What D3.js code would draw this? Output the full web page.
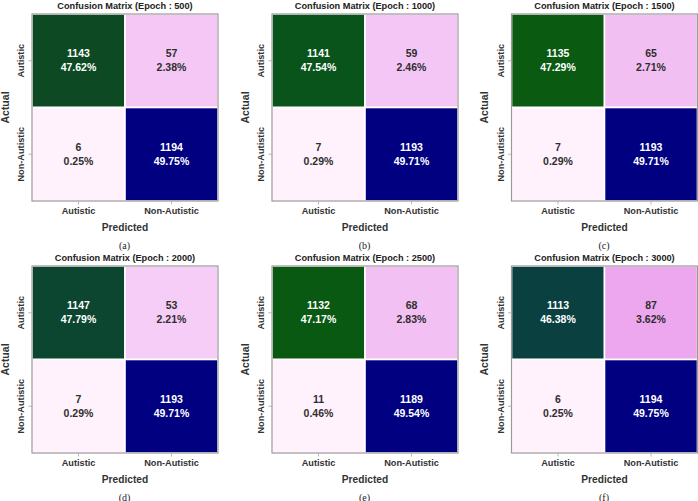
<!DOCTYPE html>
<html>
<head>
<meta charset="utf-8">
<script src="https://cdn.jsdelivr.net/npm/d3@7"></script>
<style>
  html, body { margin: 0; padding: 0; background: #ffffff; }
  svg { display: block; }
</style>
</head>
<body>
<svg id="chart" width="698" height="501"></svg>
<script>
// ---- data ----
const epochs = [500, 1000, 1500, 2000, 2500, 3000];
const panelLabels = ["(a)", "(b)", "(c)", "(d)", "(e)", "(f)"];
const classes = ["Autistic", "Non-Autistic"];
// actual Autistic row
const tpAA = [1143, 1141, 1135, 1147, 1132, 1113];
const fnAN = [57, 59, 65, 53, 68, 87];
// actual Non-Autistic row
const fpNA = [6, 7, 7, 7, 11, 6];
const tnNN = [1194, 1193, 1193, 1193, 1189, 1194];

// ---- layout / style ----
const cellW = 186, cellH = 187;
const colX = [32, 272, 511.5];
const rowY = [14, 266];
const fontSans = "'Liberation Sans', Arial, sans-serif";
const fontSerif = "'Liberation Serif', 'Times New Roman', serif";

// colour map on normalised value (per panel min..max)
const cmap = d3.scaleLinear()
  .domain([0, 0.039, 0.049, 0.068, 0.932, 0.951, 0.9562, 0.9571, 0.961, 1])
  .range(["#fff2fd", "#f6cdf6", "#f2bff3", "#eca7ef", "#0a4040", "#0a5a12", "#08541b", "#0d4a23", "#0c4530", "#000080"])
  .clamp(true);

function pctHalfEven(count, total) {
  const num = count * 10000;
  let q = Math.floor(num / total);
  const r = num - q * total;
  if (2 * r > total || (2 * r === total && q % 2 === 1)) q += 1;
  return (q / 100).toFixed(2) + "%";
}

const svg = d3.select("#chart");

epochs.forEach((ep, i) => {
  const ox = colX[i % 3];
  const oy = rowY[Math.floor(i / 3)];
  const g = svg.append("g").attr("transform", `translate(${ox},${oy})`);

  const matrix = [
    [tpAA[i], fnAN[i]],
    [fpNA[i], tnNN[i]]
  ];
  const total = d3.sum(matrix.flat());
  const vmin = d3.min(matrix.flat()), vmax = d3.max(matrix.flat());
  const norm = d3.scaleLinear().domain([vmin, vmax]).range([0, 1]);

  const x = d3.scaleBand().domain(classes).range([0, cellW]);
  const y = d3.scaleBand().domain(classes).range([0, cellH]);

  const cells = [];
  classes.forEach((a, r) => classes.forEach((p, c) => {
    cells.push({ actual: a, pred: p, v: matrix[r][c] });
  }));

  g.selectAll("rect.cell").data(cells).join("rect")
    .attr("class", "cell")
    .attr("x", d => x(d.pred))
    .attr("y", d => y(d.actual))
    .attr("width", x.bandwidth())
    .attr("height", y.bandwidth())
    .attr("fill", d => cmap(norm(d.v)))
    .attr("stroke", "#ffffff")
    .attr("stroke-width", 1.6);

  // frame
  g.append("rect")
    .attr("x", 0).attr("y", 0)
    .attr("width", cellW).attr("height", cellH)
    .attr("fill", "none")
    .attr("stroke", "#9a9a9a")
    .attr("stroke-width", 1.2);

  // cell text
  const txt = g.selectAll("text.val").data(cells).join("text")
    .attr("class", "val")
    .attr("text-anchor", "middle")
    .attr("font-family", fontSans)
    .attr("font-weight", "bold")
    .attr("font-size", 10.5)
    .attr("fill", d => norm(d.v) > 0.5 ? "#ffffff" : "#2e2e2e");
  txt.append("tspan")
    .attr("x", d => x(d.pred) + x.bandwidth() / 2)
    .attr("y", d => y(d.actual) + y.bandwidth() / 2 - 3.5)
    .text(d => d.v);
  txt.append("tspan")
    .attr("x", d => x(d.pred) + x.bandwidth() / 2)
    .attr("y", d => y(d.actual) + y.bandwidth() / 2 + 10.5)
    .text(d => pctHalfEven(d.v, total));

  // axes
  const xAxis = d3.axisBottom(x).tickSize(3.5).tickPadding(4);
  const xg = g.append("g").attr("transform", `translate(0,${cellH})`).call(xAxis);
  const yAxis = d3.axisLeft(y).tickSize(3.5).tickPadding(4);
  const yg = g.append("g").call(yAxis);
  [xg, yg].forEach(ax => {
    ax.select(".domain").remove();
    ax.selectAll(".tick line").attr("stroke", "#a8a8a8").attr("stroke-width", 0.8);
    ax.selectAll(".tick text")
      .attr("font-family", fontSans)
      .attr("font-weight", "bold")
      .attr("font-size", 9.2)
      .attr("fill", "#333333");
  });
  xg.selectAll(".tick text").attr("dy", null).attr("y", 12.5);
  yg.selectAll(".tick text")
    .attr("x", null).attr("dy", null)
    .attr("text-anchor", "middle")
    .attr("transform", "translate(-7.8,0) rotate(-90)");

  // title
  g.append("text")
    .attr("x", cellW / 2).attr("y", -5.5)
    .attr("text-anchor", "middle")
    .attr("font-family", fontSans)
    .attr("font-weight", "bold")
    .attr("font-size", 9.2)
    .attr("fill", "#222222")
    .text(`Confusion Matrix (Epoch : ${ep})`);

  // axis labels
  g.append("text")
    .attr("x", cellW / 2).attr("y", cellH + 29.5)
    .attr("text-anchor", "middle")
    .attr("font-family", fontSans)
    .attr("font-weight", "bold")
    .attr("font-size", 10.2)
    .attr("fill", "#333333")
    .text("Predicted");
  g.append("text")
    .attr("transform", `translate(-23.5,${cellH / 2}) rotate(-90)`)
    .attr("text-anchor", "middle")
    .attr("font-family", fontSans)
    .attr("font-weight", "bold")
    .attr("font-size", 10.5)
    .attr("fill", "#333333")
    .text("Actual");

  // subplot label
  g.append("text")
    .attr("x", cellW / 2 - 0.5).attr("y", cellH + 47.5)
    .attr("text-anchor", "middle")
    .attr("font-family", fontSerif)
    .attr("font-size", 10)
    .attr("fill", "#222222")
    .text(panelLabels[i]);
});
</script>
</body>
</html>
